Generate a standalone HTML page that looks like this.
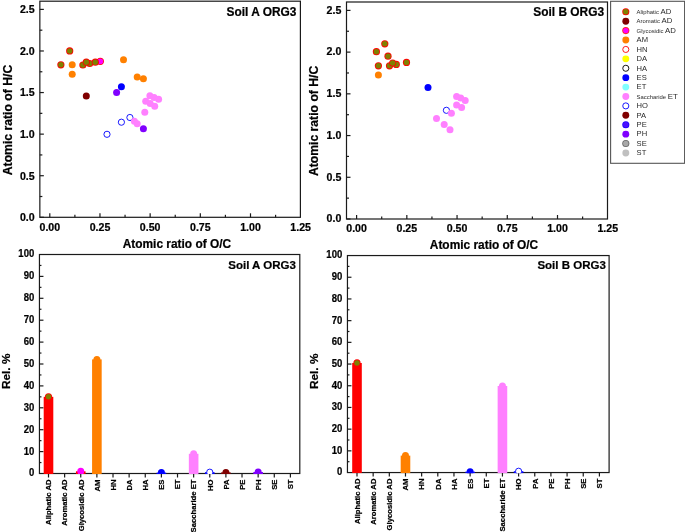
<!DOCTYPE html><html><head><meta charset="utf-8"><style>html,body{margin:0;padding:0;background:#fff;}svg{display:block;}text{font-family:"Liberation Sans", sans-serif;}svg{will-change:transform;}text[font-weight="bold"]{stroke:#000;stroke-width:0.22px;}</style></head><body>
<svg width="685" height="532" viewBox="0 0 685 532">
<rect width="685" height="532" fill="#fff"/>
<rect x="39.85" y="1.2" width="260.55" height="216.10" fill="none" stroke="#1a1a1a" stroke-width="1.2"/>
<line x1="49.80" y1="217.3" x2="49.80" y2="213.3" stroke="#1a1a1a" stroke-width="1.2"/>
<line x1="74.89" y1="217.3" x2="74.89" y2="214.8" stroke="#1a1a1a" stroke-width="1.2"/>
<line x1="99.97" y1="217.3" x2="99.97" y2="213.3" stroke="#1a1a1a" stroke-width="1.2"/>
<line x1="125.06" y1="217.3" x2="125.06" y2="214.8" stroke="#1a1a1a" stroke-width="1.2"/>
<line x1="150.15" y1="217.3" x2="150.15" y2="213.3" stroke="#1a1a1a" stroke-width="1.2"/>
<line x1="175.24" y1="217.3" x2="175.24" y2="214.8" stroke="#1a1a1a" stroke-width="1.2"/>
<line x1="200.32" y1="217.3" x2="200.32" y2="213.3" stroke="#1a1a1a" stroke-width="1.2"/>
<line x1="225.41" y1="217.3" x2="225.41" y2="214.8" stroke="#1a1a1a" stroke-width="1.2"/>
<line x1="250.50" y1="217.3" x2="250.50" y2="213.3" stroke="#1a1a1a" stroke-width="1.2"/>
<line x1="275.59" y1="217.3" x2="275.59" y2="214.8" stroke="#1a1a1a" stroke-width="1.2"/>
<line x1="39.85" y1="217.30" x2="43.85" y2="217.30" stroke="#1a1a1a" stroke-width="1.2"/>
<line x1="39.85" y1="196.51" x2="42.35" y2="196.51" stroke="#1a1a1a" stroke-width="1.2"/>
<line x1="39.85" y1="175.72" x2="43.85" y2="175.72" stroke="#1a1a1a" stroke-width="1.2"/>
<line x1="39.85" y1="154.93" x2="42.35" y2="154.93" stroke="#1a1a1a" stroke-width="1.2"/>
<line x1="39.85" y1="134.14" x2="43.85" y2="134.14" stroke="#1a1a1a" stroke-width="1.2"/>
<line x1="39.85" y1="113.35" x2="42.35" y2="113.35" stroke="#1a1a1a" stroke-width="1.2"/>
<line x1="39.85" y1="92.56" x2="43.85" y2="92.56" stroke="#1a1a1a" stroke-width="1.2"/>
<line x1="39.85" y1="71.77" x2="42.35" y2="71.77" stroke="#1a1a1a" stroke-width="1.2"/>
<line x1="39.85" y1="50.98" x2="43.85" y2="50.98" stroke="#1a1a1a" stroke-width="1.2"/>
<line x1="39.85" y1="30.19" x2="42.35" y2="30.19" stroke="#1a1a1a" stroke-width="1.2"/>
<line x1="39.85" y1="9.40" x2="43.85" y2="9.40" stroke="#1a1a1a" stroke-width="1.2"/>
<text x="49.80" y="230.90" font-size="10.6" font-weight="bold" text-anchor="middle" fill="#000">0.00</text>
<text x="99.97" y="230.90" font-size="10.6" font-weight="bold" text-anchor="middle" fill="#000">0.25</text>
<text x="150.15" y="230.90" font-size="10.6" font-weight="bold" text-anchor="middle" fill="#000">0.50</text>
<text x="200.32" y="230.90" font-size="10.6" font-weight="bold" text-anchor="middle" fill="#000">0.75</text>
<text x="250.50" y="230.90" font-size="10.6" font-weight="bold" text-anchor="middle" fill="#000">1.00</text>
<text x="300.68" y="230.90" font-size="10.6" font-weight="bold" text-anchor="middle" fill="#000">1.25</text>
<text x="34.65" y="221.10" font-size="10.6" font-weight="bold" text-anchor="end" fill="#000">0.0</text>
<text x="34.65" y="179.52" font-size="10.6" font-weight="bold" text-anchor="end" fill="#000">0.5</text>
<text x="34.65" y="137.94" font-size="10.6" font-weight="bold" text-anchor="end" fill="#000">1.0</text>
<text x="34.65" y="96.36" font-size="10.6" font-weight="bold" text-anchor="end" fill="#000">1.5</text>
<text x="34.65" y="54.78" font-size="10.6" font-weight="bold" text-anchor="end" fill="#000">2.0</text>
<text x="34.65" y="13.20" font-size="10.6" font-weight="bold" text-anchor="end" fill="#000">2.5</text>
<text x="12.00" y="120.00" font-size="12.2" font-weight="bold" text-anchor="middle" fill="#000" transform="rotate(-90 12.00 120.00)">Atomic ratio of H/C</text>
<text x="176.90" y="247.60" font-size="11.9" font-weight="bold" text-anchor="middle" fill="#000">Atomic ratio of O/C</text>
<text x="296.40" y="16.10" font-size="11.9" font-weight="bold" text-anchor="end" fill="#000">Soil A ORG3</text>
<circle cx="72.20" cy="64.80" r="3.50" fill="#ff8000"/>
<circle cx="72.20" cy="74.20" r="3.50" fill="#ff8000"/>
<circle cx="123.50" cy="59.80" r="3.50" fill="#ff8000"/>
<circle cx="137.20" cy="77.10" r="3.50" fill="#ff8000"/>
<circle cx="143.40" cy="78.80" r="3.50" fill="#ff8000"/>
<circle cx="69.70" cy="50.90" r="3.60" fill="#ff0000"/><circle cx="69.70" cy="50.90" r="2.75" fill="#808000"/>
<circle cx="60.90" cy="64.80" r="3.60" fill="#ff0000"/><circle cx="60.90" cy="64.80" r="2.75" fill="#808000"/>
<circle cx="82.90" cy="65.00" r="3.60" fill="#ff0000"/><circle cx="82.90" cy="65.00" r="2.75" fill="#808000"/>
<circle cx="89.70" cy="63.50" r="3.60" fill="#ff0000"/><circle cx="89.70" cy="63.50" r="2.75" fill="#808000"/>
<circle cx="86.30" cy="62.20" r="3.60" fill="#ff0000"/><circle cx="86.30" cy="62.20" r="2.75" fill="#808000"/>
<circle cx="100.30" cy="61.30" r="3.60" fill="#ff0000"/><circle cx="100.30" cy="61.30" r="2.90" fill="#ff00ff"/>
<circle cx="95.30" cy="62.20" r="3.60" fill="#ff0000"/><circle cx="95.30" cy="62.20" r="2.75" fill="#808000"/>
<circle cx="86.30" cy="96.00" r="3.50" fill="#800000"/>
<circle cx="121.40" cy="86.70" r="3.50" fill="#0000ff"/>
<circle cx="116.60" cy="92.60" r="3.50" fill="#8000ff"/>
<circle cx="129.90" cy="117.50" r="3.10" fill="#fff" stroke="#0000ff" stroke-width="0.9"/>
<circle cx="121.40" cy="122.20" r="3.10" fill="#fff" stroke="#0000ff" stroke-width="0.9"/>
<circle cx="107.00" cy="134.30" r="3.10" fill="#fff" stroke="#0000ff" stroke-width="0.9"/>
<circle cx="149.90" cy="95.70" r="3.50" fill="#ff80ff"/>
<circle cx="154.10" cy="97.40" r="3.50" fill="#ff80ff"/>
<circle cx="158.60" cy="99.30" r="3.50" fill="#ff80ff"/>
<circle cx="145.70" cy="101.30" r="3.50" fill="#ff80ff"/>
<circle cx="150.20" cy="103.60" r="3.50" fill="#ff80ff"/>
<circle cx="154.70" cy="106.20" r="3.50" fill="#ff80ff"/>
<circle cx="144.80" cy="112.30" r="3.50" fill="#ff80ff"/>
<circle cx="134.40" cy="121.30" r="3.50" fill="#ff80ff"/>
<circle cx="137.20" cy="123.70" r="3.50" fill="#ff80ff"/>
<circle cx="143.40" cy="128.70" r="3.50" fill="#8000ff"/>
<rect x="346.5" y="2.0" width="261.00" height="217.00" fill="none" stroke="#1a1a1a" stroke-width="1.2"/>
<line x1="356.60" y1="219.0" x2="356.60" y2="215.0" stroke="#1a1a1a" stroke-width="1.2"/>
<line x1="381.71" y1="219.0" x2="381.71" y2="216.5" stroke="#1a1a1a" stroke-width="1.2"/>
<line x1="406.83" y1="219.0" x2="406.83" y2="215.0" stroke="#1a1a1a" stroke-width="1.2"/>
<line x1="431.94" y1="219.0" x2="431.94" y2="216.5" stroke="#1a1a1a" stroke-width="1.2"/>
<line x1="457.05" y1="219.0" x2="457.05" y2="215.0" stroke="#1a1a1a" stroke-width="1.2"/>
<line x1="482.16" y1="219.0" x2="482.16" y2="216.5" stroke="#1a1a1a" stroke-width="1.2"/>
<line x1="507.28" y1="219.0" x2="507.28" y2="215.0" stroke="#1a1a1a" stroke-width="1.2"/>
<line x1="532.39" y1="219.0" x2="532.39" y2="216.5" stroke="#1a1a1a" stroke-width="1.2"/>
<line x1="557.50" y1="219.0" x2="557.50" y2="215.0" stroke="#1a1a1a" stroke-width="1.2"/>
<line x1="582.61" y1="219.0" x2="582.61" y2="216.5" stroke="#1a1a1a" stroke-width="1.2"/>
<line x1="346.5" y1="219.00" x2="350.5" y2="219.00" stroke="#1a1a1a" stroke-width="1.2"/>
<line x1="346.5" y1="198.14" x2="349.0" y2="198.14" stroke="#1a1a1a" stroke-width="1.2"/>
<line x1="346.5" y1="177.28" x2="350.5" y2="177.28" stroke="#1a1a1a" stroke-width="1.2"/>
<line x1="346.5" y1="156.42" x2="349.0" y2="156.42" stroke="#1a1a1a" stroke-width="1.2"/>
<line x1="346.5" y1="135.56" x2="350.5" y2="135.56" stroke="#1a1a1a" stroke-width="1.2"/>
<line x1="346.5" y1="114.70" x2="349.0" y2="114.70" stroke="#1a1a1a" stroke-width="1.2"/>
<line x1="346.5" y1="93.84" x2="350.5" y2="93.84" stroke="#1a1a1a" stroke-width="1.2"/>
<line x1="346.5" y1="72.98" x2="349.0" y2="72.98" stroke="#1a1a1a" stroke-width="1.2"/>
<line x1="346.5" y1="52.12" x2="350.5" y2="52.12" stroke="#1a1a1a" stroke-width="1.2"/>
<line x1="346.5" y1="31.26" x2="349.0" y2="31.26" stroke="#1a1a1a" stroke-width="1.2"/>
<line x1="346.5" y1="10.40" x2="350.5" y2="10.40" stroke="#1a1a1a" stroke-width="1.2"/>
<text x="356.60" y="232.43" font-size="10.6" font-weight="bold" text-anchor="middle" fill="#000">0.00</text>
<text x="406.83" y="232.43" font-size="10.6" font-weight="bold" text-anchor="middle" fill="#000">0.25</text>
<text x="457.05" y="232.43" font-size="10.6" font-weight="bold" text-anchor="middle" fill="#000">0.50</text>
<text x="507.28" y="232.43" font-size="10.6" font-weight="bold" text-anchor="middle" fill="#000">0.75</text>
<text x="557.50" y="232.43" font-size="10.6" font-weight="bold" text-anchor="middle" fill="#000">1.00</text>
<text x="607.73" y="232.43" font-size="10.6" font-weight="bold" text-anchor="middle" fill="#000">1.25</text>
<text x="341.30" y="222.30" font-size="10.6" font-weight="bold" text-anchor="end" fill="#000">0.0</text>
<text x="341.30" y="180.58" font-size="10.6" font-weight="bold" text-anchor="end" fill="#000">0.5</text>
<text x="341.30" y="138.86" font-size="10.6" font-weight="bold" text-anchor="end" fill="#000">1.0</text>
<text x="341.30" y="97.14" font-size="10.6" font-weight="bold" text-anchor="end" fill="#000">1.5</text>
<text x="341.30" y="55.42" font-size="10.6" font-weight="bold" text-anchor="end" fill="#000">2.0</text>
<text x="341.30" y="13.70" font-size="10.6" font-weight="bold" text-anchor="end" fill="#000">2.5</text>
<text x="318.20" y="120.90" font-size="12.2" font-weight="bold" text-anchor="middle" fill="#000" transform="rotate(-90 318.20 120.90)">Atomic ratio of H/C</text>
<text x="484.00" y="249.20" font-size="11.9" font-weight="bold" text-anchor="middle" fill="#000">Atomic ratio of O/C</text>
<text x="604.00" y="16.10" font-size="11.9" font-weight="bold" text-anchor="end" fill="#000">Soil B ORG3</text>
<circle cx="378.40" cy="74.90" r="3.50" fill="#ff8000"/>
<circle cx="384.80" cy="43.80" r="3.60" fill="#ff0000"/><circle cx="384.80" cy="43.80" r="2.75" fill="#808000"/>
<circle cx="376.40" cy="51.70" r="3.60" fill="#ff0000"/><circle cx="376.40" cy="51.70" r="2.75" fill="#808000"/>
<circle cx="388.00" cy="56.20" r="3.60" fill="#ff0000"/><circle cx="388.00" cy="56.20" r="2.75" fill="#808000"/>
<circle cx="378.40" cy="65.80" r="3.60" fill="#ff0000"/><circle cx="378.40" cy="65.80" r="2.75" fill="#808000"/>
<circle cx="389.50" cy="65.80" r="3.60" fill="#ff0000"/><circle cx="389.50" cy="65.80" r="2.75" fill="#808000"/>
<circle cx="396.30" cy="64.40" r="3.60" fill="#ff0000"/><circle cx="396.30" cy="64.40" r="2.75" fill="#808000"/>
<circle cx="392.70" cy="63.00" r="3.60" fill="#ff0000"/><circle cx="392.70" cy="63.00" r="2.75" fill="#808000"/>
<circle cx="406.50" cy="62.40" r="3.60" fill="#ff0000"/><circle cx="406.50" cy="62.40" r="2.75" fill="#808000"/>
<circle cx="428.00" cy="87.60" r="3.50" fill="#0000ff"/>
<circle cx="446.40" cy="110.30" r="3.10" fill="#fff" stroke="#0000ff" stroke-width="0.9"/>
<circle cx="456.60" cy="96.60" r="3.50" fill="#ff80ff"/>
<circle cx="460.70" cy="98.10" r="3.50" fill="#ff80ff"/>
<circle cx="465.20" cy="100.40" r="3.50" fill="#ff80ff"/>
<circle cx="456.60" cy="104.90" r="3.50" fill="#ff80ff"/>
<circle cx="461.60" cy="107.50" r="3.50" fill="#ff80ff"/>
<circle cx="451.40" cy="113.30" r="3.50" fill="#ff80ff"/>
<circle cx="436.50" cy="118.40" r="3.50" fill="#ff80ff"/>
<circle cx="444.20" cy="124.60" r="3.50" fill="#ff80ff"/>
<circle cx="450.00" cy="129.70" r="3.50" fill="#ff80ff"/>
<rect x="39.45" y="254.5" width="260.35" height="219.00" fill="none" stroke="#1a1a1a" stroke-width="1.2"/>
<line x1="39.45" y1="462.55" x2="41.45" y2="462.55" stroke="#1a1a1a" stroke-width="1.2"/>
<line x1="39.45" y1="451.60" x2="43.45" y2="451.60" stroke="#1a1a1a" stroke-width="1.2"/>
<line x1="39.45" y1="440.65" x2="41.45" y2="440.65" stroke="#1a1a1a" stroke-width="1.2"/>
<line x1="39.45" y1="429.70" x2="43.45" y2="429.70" stroke="#1a1a1a" stroke-width="1.2"/>
<line x1="39.45" y1="418.75" x2="41.45" y2="418.75" stroke="#1a1a1a" stroke-width="1.2"/>
<line x1="39.45" y1="407.80" x2="43.45" y2="407.80" stroke="#1a1a1a" stroke-width="1.2"/>
<line x1="39.45" y1="396.85" x2="41.45" y2="396.85" stroke="#1a1a1a" stroke-width="1.2"/>
<line x1="39.45" y1="385.90" x2="43.45" y2="385.90" stroke="#1a1a1a" stroke-width="1.2"/>
<line x1="39.45" y1="374.95" x2="41.45" y2="374.95" stroke="#1a1a1a" stroke-width="1.2"/>
<line x1="39.45" y1="364.00" x2="43.45" y2="364.00" stroke="#1a1a1a" stroke-width="1.2"/>
<line x1="39.45" y1="353.05" x2="41.45" y2="353.05" stroke="#1a1a1a" stroke-width="1.2"/>
<line x1="39.45" y1="342.10" x2="43.45" y2="342.10" stroke="#1a1a1a" stroke-width="1.2"/>
<line x1="39.45" y1="331.15" x2="41.45" y2="331.15" stroke="#1a1a1a" stroke-width="1.2"/>
<line x1="39.45" y1="320.20" x2="43.45" y2="320.20" stroke="#1a1a1a" stroke-width="1.2"/>
<line x1="39.45" y1="309.25" x2="41.45" y2="309.25" stroke="#1a1a1a" stroke-width="1.2"/>
<line x1="39.45" y1="298.30" x2="43.45" y2="298.30" stroke="#1a1a1a" stroke-width="1.2"/>
<line x1="39.45" y1="287.35" x2="41.45" y2="287.35" stroke="#1a1a1a" stroke-width="1.2"/>
<line x1="39.45" y1="276.40" x2="43.45" y2="276.40" stroke="#1a1a1a" stroke-width="1.2"/>
<line x1="39.45" y1="265.45" x2="41.45" y2="265.45" stroke="#1a1a1a" stroke-width="1.2"/>
<text x="34.25" y="476.40" font-size="10.2" font-weight="bold" text-anchor="end" fill="#000" textLength="5.3" lengthAdjust="spacingAndGlyphs">0</text>
<text x="34.25" y="454.50" font-size="10.2" font-weight="bold" text-anchor="end" fill="#000" textLength="10.6" lengthAdjust="spacingAndGlyphs">10</text>
<text x="34.25" y="432.60" font-size="10.2" font-weight="bold" text-anchor="end" fill="#000" textLength="10.6" lengthAdjust="spacingAndGlyphs">20</text>
<text x="34.25" y="410.70" font-size="10.2" font-weight="bold" text-anchor="end" fill="#000" textLength="10.6" lengthAdjust="spacingAndGlyphs">30</text>
<text x="34.25" y="388.80" font-size="10.2" font-weight="bold" text-anchor="end" fill="#000" textLength="10.6" lengthAdjust="spacingAndGlyphs">40</text>
<text x="34.25" y="366.90" font-size="10.2" font-weight="bold" text-anchor="end" fill="#000" textLength="10.6" lengthAdjust="spacingAndGlyphs">50</text>
<text x="34.25" y="345.00" font-size="10.2" font-weight="bold" text-anchor="end" fill="#000" textLength="10.6" lengthAdjust="spacingAndGlyphs">60</text>
<text x="34.25" y="323.10" font-size="10.2" font-weight="bold" text-anchor="end" fill="#000" textLength="10.6" lengthAdjust="spacingAndGlyphs">70</text>
<text x="34.25" y="301.20" font-size="10.2" font-weight="bold" text-anchor="end" fill="#000" textLength="10.6" lengthAdjust="spacingAndGlyphs">80</text>
<text x="34.25" y="279.30" font-size="10.2" font-weight="bold" text-anchor="end" fill="#000" textLength="10.6" lengthAdjust="spacingAndGlyphs">90</text>
<text x="34.25" y="257.40" font-size="10.2" font-weight="bold" text-anchor="end" fill="#000" textLength="15.9" lengthAdjust="spacingAndGlyphs">100</text>
<line x1="48.50" y1="473.5" x2="48.50" y2="477.5" stroke="#1a1a1a" stroke-width="1.2"/>
<text x="51.30" y="479.50" font-size="7.7" font-weight="bold" text-anchor="end" fill="#000" transform="rotate(-90 51.30 479.50)">Aliphatic AD</text>
<line x1="64.63" y1="473.5" x2="64.63" y2="477.5" stroke="#1a1a1a" stroke-width="1.2"/>
<text x="67.43" y="479.50" font-size="7.7" font-weight="bold" text-anchor="end" fill="#000" transform="rotate(-90 67.43 479.50)">Aromatic AD</text>
<line x1="80.75" y1="473.5" x2="80.75" y2="477.5" stroke="#1a1a1a" stroke-width="1.2"/>
<text x="83.55" y="479.50" font-size="7.7" font-weight="bold" text-anchor="end" fill="#000" transform="rotate(-90 83.55 479.50)">Glycosidic AD</text>
<line x1="96.88" y1="473.5" x2="96.88" y2="477.5" stroke="#1a1a1a" stroke-width="1.2"/>
<text x="99.68" y="479.50" font-size="7.7" font-weight="bold" text-anchor="end" fill="#000" transform="rotate(-90 99.68 479.50)">AM</text>
<line x1="113.01" y1="473.5" x2="113.01" y2="477.5" stroke="#1a1a1a" stroke-width="1.2"/>
<text x="115.81" y="479.50" font-size="7.7" font-weight="bold" text-anchor="end" fill="#000" transform="rotate(-90 115.81 479.50)">HN</text>
<line x1="129.13" y1="473.5" x2="129.13" y2="477.5" stroke="#1a1a1a" stroke-width="1.2"/>
<text x="131.94" y="479.50" font-size="7.7" font-weight="bold" text-anchor="end" fill="#000" transform="rotate(-90 131.94 479.50)">DA</text>
<line x1="145.26" y1="473.5" x2="145.26" y2="477.5" stroke="#1a1a1a" stroke-width="1.2"/>
<text x="148.06" y="479.50" font-size="7.7" font-weight="bold" text-anchor="end" fill="#000" transform="rotate(-90 148.06 479.50)">HA</text>
<line x1="161.39" y1="473.5" x2="161.39" y2="477.5" stroke="#1a1a1a" stroke-width="1.2"/>
<text x="164.19" y="479.50" font-size="7.7" font-weight="bold" text-anchor="end" fill="#000" transform="rotate(-90 164.19 479.50)">ES</text>
<line x1="177.52" y1="473.5" x2="177.52" y2="477.5" stroke="#1a1a1a" stroke-width="1.2"/>
<text x="180.32" y="479.50" font-size="7.7" font-weight="bold" text-anchor="end" fill="#000" transform="rotate(-90 180.32 479.50)">ET</text>
<line x1="193.64" y1="473.5" x2="193.64" y2="477.5" stroke="#1a1a1a" stroke-width="1.2"/>
<text x="196.44" y="479.50" font-size="7.7" font-weight="bold" text-anchor="end" fill="#000" transform="rotate(-90 196.44 479.50)">Saccharide ET</text>
<line x1="209.77" y1="473.5" x2="209.77" y2="477.5" stroke="#1a1a1a" stroke-width="1.2"/>
<text x="212.57" y="479.50" font-size="7.7" font-weight="bold" text-anchor="end" fill="#000" transform="rotate(-90 212.57 479.50)">HO</text>
<line x1="225.90" y1="473.5" x2="225.90" y2="477.5" stroke="#1a1a1a" stroke-width="1.2"/>
<text x="228.70" y="479.50" font-size="7.7" font-weight="bold" text-anchor="end" fill="#000" transform="rotate(-90 228.70 479.50)">PA</text>
<line x1="242.02" y1="473.5" x2="242.02" y2="477.5" stroke="#1a1a1a" stroke-width="1.2"/>
<text x="244.82" y="479.50" font-size="7.7" font-weight="bold" text-anchor="end" fill="#000" transform="rotate(-90 244.82 479.50)">PE</text>
<line x1="258.15" y1="473.5" x2="258.15" y2="477.5" stroke="#1a1a1a" stroke-width="1.2"/>
<text x="260.95" y="479.50" font-size="7.7" font-weight="bold" text-anchor="end" fill="#000" transform="rotate(-90 260.95 479.50)">PH</text>
<line x1="274.28" y1="473.5" x2="274.28" y2="477.5" stroke="#1a1a1a" stroke-width="1.2"/>
<text x="277.08" y="479.50" font-size="7.7" font-weight="bold" text-anchor="end" fill="#000" transform="rotate(-90 277.08 479.50)">SE</text>
<line x1="290.40" y1="473.5" x2="290.40" y2="477.5" stroke="#1a1a1a" stroke-width="1.2"/>
<text x="293.20" y="479.50" font-size="7.7" font-weight="bold" text-anchor="end" fill="#000" transform="rotate(-90 293.20 479.50)">ST</text>
<clipPath id="c39"><rect x="39.45" y="254.5" width="260.35" height="219.60"/></clipPath><g clip-path="url(#c39)">
<rect x="43.70" y="396.85" width="9.6" height="77.25" fill="#ff0000"/>
<circle cx="48.50" cy="396.85" r="3.60" fill="#ff0000"/><circle cx="48.50" cy="396.85" r="2.75" fill="#808000"/>
<rect x="75.95" y="471.31" width="9.6" height="2.79" fill="#ff0000"/>
<circle cx="80.75" cy="471.31" r="3.50" fill="#ff00ff"/>
<rect x="92.08" y="359.40" width="9.6" height="114.70" fill="#ff8000"/>
<circle cx="96.88" cy="359.40" r="3.50" fill="#ff8000"/>
<rect x="156.59" y="472.62" width="9.6" height="1.48" fill="#0000ff"/>
<circle cx="161.39" cy="472.62" r="3.50" fill="#0000ff"/>
<rect x="188.84" y="453.79" width="9.6" height="20.31" fill="#ff80ff"/>
<circle cx="193.64" cy="453.79" r="3.50" fill="#ff80ff"/>
<rect x="204.97" y="472.19" width="9.6" height="1.91" fill="#0000ff"/>
<circle cx="209.77" cy="472.19" r="3.10" fill="#fff" stroke="#0000ff" stroke-width="0.9"/>
<rect x="221.10" y="472.40" width="9.6" height="1.70" fill="#800000"/>
<circle cx="225.90" cy="472.40" r="3.50" fill="#800000"/>
<rect x="253.35" y="471.97" width="9.6" height="2.13" fill="#8000ff"/>
<circle cx="258.15" cy="471.97" r="3.50" fill="#8000ff"/>
</g>
<text x="295.80" y="268.70" font-size="11.5" font-weight="bold" text-anchor="end" fill="#000">Soil A ORG3</text>
<text x="10.30" y="371.30" font-size="11.8" font-weight="bold" text-anchor="middle" fill="#000" transform="rotate(-90 10.30 371.30)">Rel. %</text>
<rect x="347.45" y="255.55" width="261.65" height="217.00" fill="none" stroke="#1a1a1a" stroke-width="1.2"/>
<line x1="347.45" y1="461.70" x2="349.45" y2="461.70" stroke="#1a1a1a" stroke-width="1.2"/>
<line x1="347.45" y1="450.85" x2="351.45" y2="450.85" stroke="#1a1a1a" stroke-width="1.2"/>
<line x1="347.45" y1="440.00" x2="349.45" y2="440.00" stroke="#1a1a1a" stroke-width="1.2"/>
<line x1="347.45" y1="429.15" x2="351.45" y2="429.15" stroke="#1a1a1a" stroke-width="1.2"/>
<line x1="347.45" y1="418.30" x2="349.45" y2="418.30" stroke="#1a1a1a" stroke-width="1.2"/>
<line x1="347.45" y1="407.45" x2="351.45" y2="407.45" stroke="#1a1a1a" stroke-width="1.2"/>
<line x1="347.45" y1="396.60" x2="349.45" y2="396.60" stroke="#1a1a1a" stroke-width="1.2"/>
<line x1="347.45" y1="385.75" x2="351.45" y2="385.75" stroke="#1a1a1a" stroke-width="1.2"/>
<line x1="347.45" y1="374.90" x2="349.45" y2="374.90" stroke="#1a1a1a" stroke-width="1.2"/>
<line x1="347.45" y1="364.05" x2="351.45" y2="364.05" stroke="#1a1a1a" stroke-width="1.2"/>
<line x1="347.45" y1="353.20" x2="349.45" y2="353.20" stroke="#1a1a1a" stroke-width="1.2"/>
<line x1="347.45" y1="342.35" x2="351.45" y2="342.35" stroke="#1a1a1a" stroke-width="1.2"/>
<line x1="347.45" y1="331.50" x2="349.45" y2="331.50" stroke="#1a1a1a" stroke-width="1.2"/>
<line x1="347.45" y1="320.65" x2="351.45" y2="320.65" stroke="#1a1a1a" stroke-width="1.2"/>
<line x1="347.45" y1="309.80" x2="349.45" y2="309.80" stroke="#1a1a1a" stroke-width="1.2"/>
<line x1="347.45" y1="298.95" x2="351.45" y2="298.95" stroke="#1a1a1a" stroke-width="1.2"/>
<line x1="347.45" y1="288.10" x2="349.45" y2="288.10" stroke="#1a1a1a" stroke-width="1.2"/>
<line x1="347.45" y1="277.25" x2="351.45" y2="277.25" stroke="#1a1a1a" stroke-width="1.2"/>
<line x1="347.45" y1="266.40" x2="349.45" y2="266.40" stroke="#1a1a1a" stroke-width="1.2"/>
<text x="342.25" y="475.45" font-size="10.2" font-weight="bold" text-anchor="end" fill="#000" textLength="5.3" lengthAdjust="spacingAndGlyphs">0</text>
<text x="342.25" y="453.75" font-size="10.2" font-weight="bold" text-anchor="end" fill="#000" textLength="10.6" lengthAdjust="spacingAndGlyphs">10</text>
<text x="342.25" y="432.05" font-size="10.2" font-weight="bold" text-anchor="end" fill="#000" textLength="10.6" lengthAdjust="spacingAndGlyphs">20</text>
<text x="342.25" y="410.35" font-size="10.2" font-weight="bold" text-anchor="end" fill="#000" textLength="10.6" lengthAdjust="spacingAndGlyphs">30</text>
<text x="342.25" y="388.65" font-size="10.2" font-weight="bold" text-anchor="end" fill="#000" textLength="10.6" lengthAdjust="spacingAndGlyphs">40</text>
<text x="342.25" y="366.95" font-size="10.2" font-weight="bold" text-anchor="end" fill="#000" textLength="10.6" lengthAdjust="spacingAndGlyphs">50</text>
<text x="342.25" y="345.25" font-size="10.2" font-weight="bold" text-anchor="end" fill="#000" textLength="10.6" lengthAdjust="spacingAndGlyphs">60</text>
<text x="342.25" y="323.55" font-size="10.2" font-weight="bold" text-anchor="end" fill="#000" textLength="10.6" lengthAdjust="spacingAndGlyphs">70</text>
<text x="342.25" y="301.85" font-size="10.2" font-weight="bold" text-anchor="end" fill="#000" textLength="10.6" lengthAdjust="spacingAndGlyphs">80</text>
<text x="342.25" y="280.15" font-size="10.2" font-weight="bold" text-anchor="end" fill="#000" textLength="10.6" lengthAdjust="spacingAndGlyphs">90</text>
<text x="342.25" y="258.45" font-size="10.2" font-weight="bold" text-anchor="end" fill="#000" textLength="15.9" lengthAdjust="spacingAndGlyphs">100</text>
<line x1="357.00" y1="472.55" x2="357.00" y2="476.55" stroke="#1a1a1a" stroke-width="1.2"/>
<text x="359.80" y="478.55" font-size="7.7" font-weight="bold" text-anchor="end" fill="#000" transform="rotate(-90 359.80 478.55)">Aliphatic AD</text>
<line x1="373.16" y1="472.55" x2="373.16" y2="476.55" stroke="#1a1a1a" stroke-width="1.2"/>
<text x="375.96" y="478.55" font-size="7.7" font-weight="bold" text-anchor="end" fill="#000" transform="rotate(-90 375.96 478.55)">Aromatic AD</text>
<line x1="389.32" y1="472.55" x2="389.32" y2="476.55" stroke="#1a1a1a" stroke-width="1.2"/>
<text x="392.12" y="478.55" font-size="7.7" font-weight="bold" text-anchor="end" fill="#000" transform="rotate(-90 392.12 478.55)">Glycosidic AD</text>
<line x1="405.48" y1="472.55" x2="405.48" y2="476.55" stroke="#1a1a1a" stroke-width="1.2"/>
<text x="408.28" y="478.55" font-size="7.7" font-weight="bold" text-anchor="end" fill="#000" transform="rotate(-90 408.28 478.55)">AM</text>
<line x1="421.64" y1="472.55" x2="421.64" y2="476.55" stroke="#1a1a1a" stroke-width="1.2"/>
<text x="424.44" y="478.55" font-size="7.7" font-weight="bold" text-anchor="end" fill="#000" transform="rotate(-90 424.44 478.55)">HN</text>
<line x1="437.80" y1="472.55" x2="437.80" y2="476.55" stroke="#1a1a1a" stroke-width="1.2"/>
<text x="440.60" y="478.55" font-size="7.7" font-weight="bold" text-anchor="end" fill="#000" transform="rotate(-90 440.60 478.55)">DA</text>
<line x1="453.96" y1="472.55" x2="453.96" y2="476.55" stroke="#1a1a1a" stroke-width="1.2"/>
<text x="456.76" y="478.55" font-size="7.7" font-weight="bold" text-anchor="end" fill="#000" transform="rotate(-90 456.76 478.55)">HA</text>
<line x1="470.12" y1="472.55" x2="470.12" y2="476.55" stroke="#1a1a1a" stroke-width="1.2"/>
<text x="472.92" y="478.55" font-size="7.7" font-weight="bold" text-anchor="end" fill="#000" transform="rotate(-90 472.92 478.55)">ES</text>
<line x1="486.28" y1="472.55" x2="486.28" y2="476.55" stroke="#1a1a1a" stroke-width="1.2"/>
<text x="489.08" y="478.55" font-size="7.7" font-weight="bold" text-anchor="end" fill="#000" transform="rotate(-90 489.08 478.55)">ET</text>
<line x1="502.44" y1="472.55" x2="502.44" y2="476.55" stroke="#1a1a1a" stroke-width="1.2"/>
<text x="505.24" y="478.55" font-size="7.7" font-weight="bold" text-anchor="end" fill="#000" transform="rotate(-90 505.24 478.55)">Saccharide ET</text>
<line x1="518.60" y1="472.55" x2="518.60" y2="476.55" stroke="#1a1a1a" stroke-width="1.2"/>
<text x="521.40" y="478.55" font-size="7.7" font-weight="bold" text-anchor="end" fill="#000" transform="rotate(-90 521.40 478.55)">HO</text>
<line x1="534.76" y1="472.55" x2="534.76" y2="476.55" stroke="#1a1a1a" stroke-width="1.2"/>
<text x="537.56" y="478.55" font-size="7.7" font-weight="bold" text-anchor="end" fill="#000" transform="rotate(-90 537.56 478.55)">PA</text>
<line x1="550.92" y1="472.55" x2="550.92" y2="476.55" stroke="#1a1a1a" stroke-width="1.2"/>
<text x="553.72" y="478.55" font-size="7.7" font-weight="bold" text-anchor="end" fill="#000" transform="rotate(-90 553.72 478.55)">PE</text>
<line x1="567.08" y1="472.55" x2="567.08" y2="476.55" stroke="#1a1a1a" stroke-width="1.2"/>
<text x="569.88" y="478.55" font-size="7.7" font-weight="bold" text-anchor="end" fill="#000" transform="rotate(-90 569.88 478.55)">PH</text>
<line x1="583.24" y1="472.55" x2="583.24" y2="476.55" stroke="#1a1a1a" stroke-width="1.2"/>
<text x="586.04" y="478.55" font-size="7.7" font-weight="bold" text-anchor="end" fill="#000" transform="rotate(-90 586.04 478.55)">SE</text>
<line x1="599.40" y1="472.55" x2="599.40" y2="476.55" stroke="#1a1a1a" stroke-width="1.2"/>
<text x="602.20" y="478.55" font-size="7.7" font-weight="bold" text-anchor="end" fill="#000" transform="rotate(-90 602.20 478.55)">ST</text>
<clipPath id="c347"><rect x="347.45" y="255.55" width="261.65" height="217.60"/></clipPath><g clip-path="url(#c347)">
<rect x="352.20" y="362.97" width="9.6" height="110.18" fill="#ff0000"/>
<circle cx="357.00" cy="362.97" r="3.60" fill="#ff0000"/><circle cx="357.00" cy="362.97" r="2.75" fill="#808000"/>
<rect x="400.68" y="455.62" width="9.6" height="17.53" fill="#ff8000"/>
<circle cx="405.48" cy="455.62" r="3.50" fill="#ff8000"/>
<rect x="465.32" y="471.68" width="9.6" height="1.47" fill="#0000ff"/>
<circle cx="470.12" cy="471.68" r="3.50" fill="#0000ff"/>
<rect x="497.64" y="385.97" width="9.6" height="87.18" fill="#ff80ff"/>
<circle cx="502.44" cy="385.97" r="3.50" fill="#ff80ff"/>
<rect x="513.80" y="471.25" width="9.6" height="1.90" fill="#0000ff"/>
<circle cx="518.60" cy="471.25" r="3.10" fill="#fff" stroke="#0000ff" stroke-width="0.9"/>
</g>
<text x="605.80" y="269.40" font-size="11.5" font-weight="bold" text-anchor="end" fill="#000">Soil B ORG3</text>
<text x="318.40" y="371.30" font-size="11.8" font-weight="bold" text-anchor="middle" fill="#000" transform="rotate(-90 318.40 371.30)">Rel. %</text>
<rect x="610.6" y="1.3" width="74.0" height="162" fill="#fff" stroke="#555" stroke-width="1.1"/>
<circle cx="625.80" cy="11.80" r="3.55" fill="#ff0000"/><circle cx="625.80" cy="11.80" r="2.70" fill="#808000"/>
<text x="636.6" y="14.05" font-size="5.9" fill="#2a2a2a">Aliphatic <tspan font-size="7.8">AD</tspan></text>
<circle cx="625.80" cy="21.21" r="3.45" fill="#800000"/>
<text x="636.6" y="23.46" font-size="5.9" fill="#2a2a2a">Aromatic <tspan font-size="7.8">AD</tspan></text>
<circle cx="625.80" cy="30.62" r="3.55" fill="#ff2020"/><circle cx="625.80" cy="30.62" r="2.70" fill="#ff00ff"/>
<text x="636.6" y="32.87" font-size="5.9" fill="#2a2a2a">Glycosidic <tspan font-size="7.8">AD</tspan></text>
<circle cx="625.80" cy="40.03" r="3.45" fill="#ff8000"/>
<text x="636.6" y="42.28" font-size="7.6" fill="#2a2a2a">AM</text>
<circle cx="625.80" cy="49.44" r="3.05" fill="#fff" stroke="#ff0000" stroke-width="0.9"/>
<text x="636.6" y="51.69" font-size="7.6" fill="#2a2a2a">HN</text>
<circle cx="625.80" cy="58.85" r="3.45" fill="#ffff00"/>
<text x="636.6" y="61.10" font-size="7.6" fill="#2a2a2a">DA</text>
<circle cx="625.80" cy="68.26" r="3.05" fill="#fff" stroke="#000000" stroke-width="0.9"/>
<text x="636.6" y="70.51" font-size="7.6" fill="#2a2a2a">HA</text>
<circle cx="625.80" cy="77.67" r="3.45" fill="#0000ff"/>
<text x="636.6" y="79.92" font-size="7.6" fill="#2a2a2a">ES</text>
<circle cx="625.80" cy="87.08" r="3.45" fill="#80ffff"/>
<text x="636.6" y="89.33" font-size="7.6" fill="#2a2a2a">ET</text>
<circle cx="625.80" cy="96.49" r="3.45" fill="#ff80ff"/>
<text x="636.6" y="98.74" font-size="5.9" fill="#2a2a2a">Saccharide <tspan font-size="7.8">ET</tspan></text>
<circle cx="625.80" cy="105.90" r="3.05" fill="#fff" stroke="#0000ff" stroke-width="0.9"/>
<text x="636.6" y="108.15" font-size="7.6" fill="#2a2a2a">HO</text>
<circle cx="625.80" cy="115.31" r="3.45" fill="#800000"/>
<text x="636.6" y="117.56" font-size="7.6" fill="#2a2a2a">PA</text>
<circle cx="625.80" cy="124.72" r="3.55" fill="#1a00ff"/><circle cx="625.80" cy="124.72" r="2.70" fill="#4a10ff"/>
<text x="636.6" y="126.97" font-size="7.6" fill="#2a2a2a">PE</text>
<circle cx="625.80" cy="134.13" r="3.45" fill="#8000ff"/>
<text x="636.6" y="136.38" font-size="7.6" fill="#2a2a2a">PH</text>
<circle cx="625.80" cy="143.54" r="3.55" fill="#666666"/><circle cx="625.80" cy="143.54" r="2.70" fill="#a8a8a8"/>
<text x="636.6" y="145.79" font-size="7.6" fill="#2a2a2a">SE</text>
<circle cx="625.80" cy="152.95" r="3.45" fill="#c0c0c0"/>
<text x="636.6" y="155.20" font-size="7.6" fill="#2a2a2a">ST</text>
</svg></body></html>
